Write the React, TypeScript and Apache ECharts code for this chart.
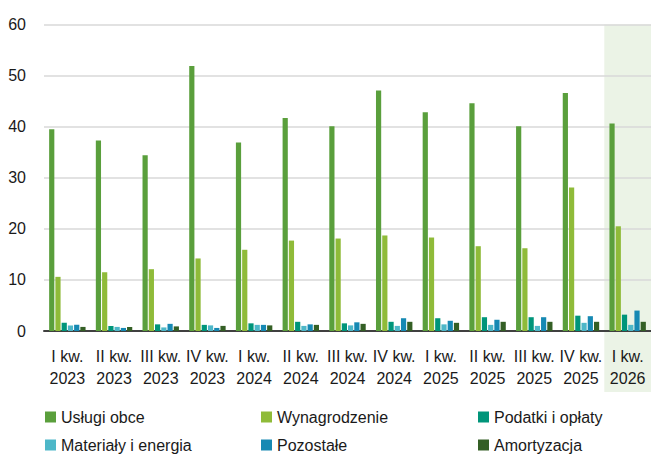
import React, { useEffect, useRef } from "react";
import * as echarts from "echarts";

const categories = [
  "I kw.\n2023", "II kw.\n2023", "III kw.\n2023", "IV kw.\n2023",
  "I kw.\n2024", "II kw.\n2024", "III kw.\n2024", "IV kw.\n2024",
  "I kw.\n2025", "II kw.\n2025", "III kw.\n2025", "IV kw.\n2025",
  "I kw.\n2026",
];
const uslugiObce = [39.5, 37.3, 34.4, 51.9, 36.9, 41.7, 40.1, 47.1, 42.8, 44.6, 40.1, 46.6, 40.6];
const wynagrodzenie = [10.6, 11.5, 12.1, 14.2, 15.9, 17.7, 18.1, 18.7, 18.3, 16.6, 16.2, 28.1, 20.5];
const podatki = [1.6, 1.0, 1.3, 1.2, 1.5, 1.8, 1.5, 1.8, 2.5, 2.7, 2.7, 3.0, 3.2];
const materialy = [1.1, 0.8, 0.7, 1.1, 1.2, 1.0, 1.1, 1.0, 1.3, 1.2, 1.0, 1.6, 1.2];
const pozostale = [1.2, 0.6, 1.4, 0.6, 1.2, 1.3, 1.7, 2.5, 2.0, 2.2, 2.7, 2.9, 4.0];
const amortyzacja = [0.8, 0.8, 0.9, 1.0, 1.1, 1.2, 1.4, 1.8, 1.6, 1.8, 1.8, 1.8, 1.8];
const yTicks = { min: 0, max: 60, interval: 10 };

const seriesDefs = [
  { name: "Usługi obce", data: uslugiObce, color: "#5a9f3c" },
  { name: "Wynagrodzenie", data: wynagrodzenie, color: "#8fbb39" },
  { name: "Podatki i opłaty", data: podatki, color: "#00957a" },
  { name: "Materiały i energia", data: materialy, color: "#4db7c8" },
  { name: "Pozostałe", data: pozostale, color: "#1689b3" },
  { name: "Amortyzacja", data: amortyzacja, color: "#345f25" },
];

const FONT = "'Liberation Sans', Arial, sans-serif";
const TEXT = "#1a1a1a";

export default function App() {
  const ref = useRef<HTMLDivElement>(null);
  useEffect(() => {
    if (!ref.current) return;
    const chart = echarts.init(ref.current, undefined, { renderer: "svg" });
    const legendCol = (names: string[], left: number) => ({
      data: names,
      orient: "vertical",
      left,
      top: 407,
      height: 80,
      itemWidth: 11,
      itemHeight: 11,
      itemGap: 8,
      icon: "rect",
      padding: 0,
      textStyle: { fontFamily: FONT, fontSize: 16, color: TEXT, lineHeight: 20 },
    });
    chart.setOption({
      animation: false,
      textStyle: { fontFamily: FONT },
      grid: { left: 44, right: 0, top: 24.5, height: 306.5, containLabel: false },
      legend: [
        legendCol(["Usługi obce", "Materiały i energia"], 45),
        legendCol(["Wynagrodzenie", "Pozostałe"], 261),
        legendCol(["Podatki i opłaty", "Amortyzacja"], 478),
      ],
      xAxis: {
        type: "category",
        data: categories,
        axisLine: { show: true, lineStyle: { color: "#404040", width: 2 } },
        axisTick: { show: false },
        axisLabel: {
          interval: 0,
          margin: 15,
          fontFamily: FONT,
          fontSize: 16,
          lineHeight: 21.5,
          color: TEXT,
        },
      },
      yAxis: {
        type: "value",
        min: yTicks.min,
        max: yTicks.max,
        interval: yTicks.interval,
        axisLine: { show: false },
        axisTick: { show: false },
        splitLine: { lineStyle: { color: "#d9d9d9", width: 1.5 } },
        axisLabel: { margin: 18, fontFamily: FONT, fontSize: 16, color: TEXT },
      },
      series: seriesDefs.map((s) => ({
        name: s.name,
        type: "bar",
        data: s.data,
        barCategoryGap: "22%",
        barGap: "20%",
        itemStyle: { color: s.color },
      })),
    });
    // highlight band behind the last category
    const last = categories.length - 1;
    const cLast = chart.convertToPixel({ xAxisIndex: 0 }, last) as number;
    const cPrev = chart.convertToPixel({ xAxisIndex: 0 }, last - 1) as number;
    const band = cLast - cPrev;
    const yTop = chart.convertToPixel({ yAxisIndex: 0 }, yTicks.max) as number;
    chart.setOption({
      graphic: [
        {
          type: "rect",
          z: -10,
          silent: true,
          shape: { x: cLast - band / 2, y: yTop, width: band, height: 392 - yTop },
          style: { fill: "#ebf3e6" },
        },
      ],
    });
    return () => chart.dispose();
  }, []);
  return (
    <div
      ref={ref}
      style={{ position: "absolute", left: 0, top: 0, width: 651, height: 454 }}
    />
  );
}
